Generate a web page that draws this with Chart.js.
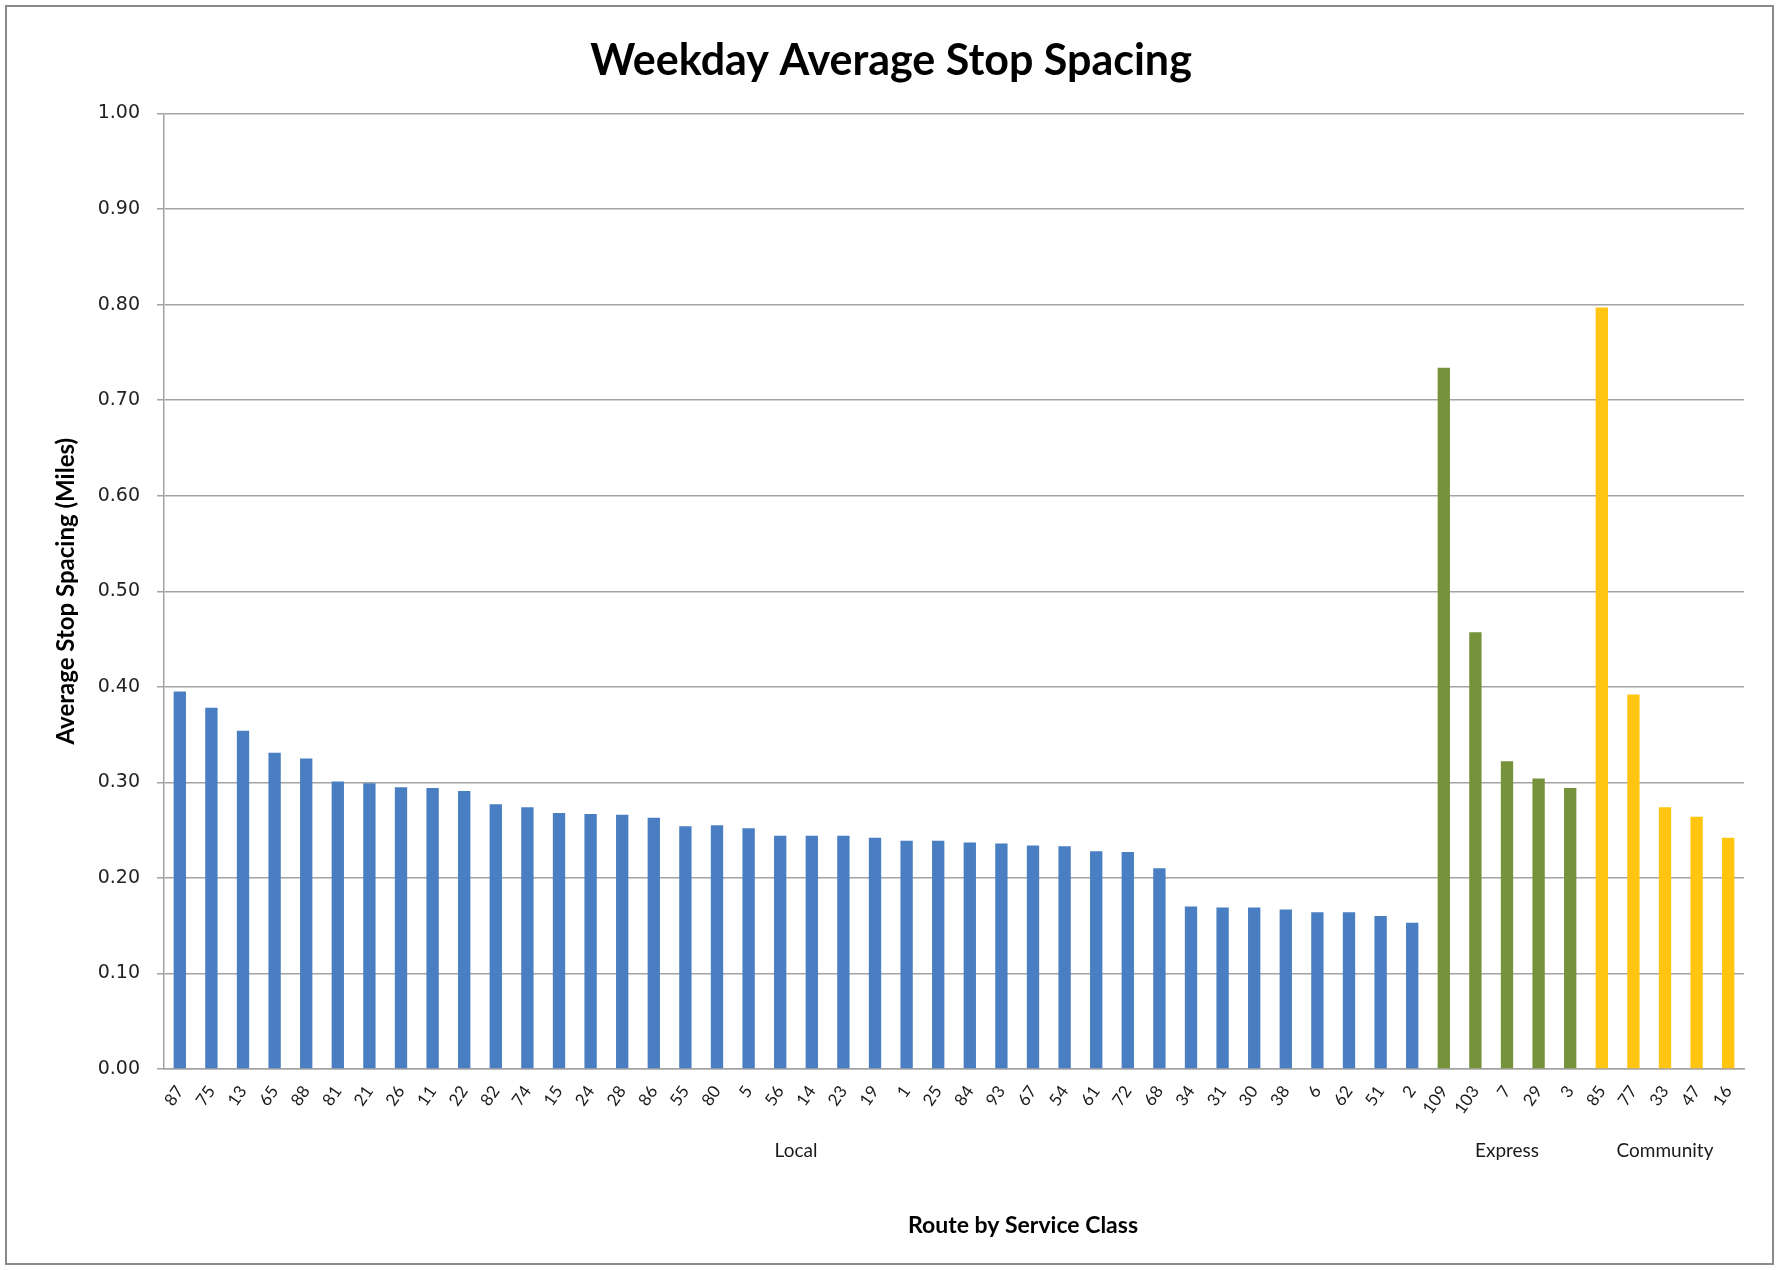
<!DOCTYPE html>
<html><head><meta charset="utf-8">
<script src="https://cdn.jsdelivr.net/npm/chart.js@4.4.0/dist/chart.umd.min.js"></script>
<style>html,body{margin:0;padding:0;background:#fff}#wrap{width:1779px;height:1270px}</style>
</head><body><div id="wrap"><canvas id="c" width="1779" height="1270"></canvas></div>
<script>
const chartTitle = 'Weekday Average Stop Spacing';
const yAxisTitle = 'Average Stop Spacing (Miles)';
const xAxisTitle = 'Route by Service Class';
const groupNames = ['Local', 'Express', 'Community'];
const localRoutes = ['87','75','13','65','88','81','21','26','11','22','82','74','15','24','28','86','55','80','5','56','14','23','19','1','25','84','93','67','54','61','72','68','34','31','30','38','6','62','51','2'];
const localValues = [0.395,0.378,0.354,0.331,0.325,0.301,0.299,0.295,0.294,0.291,0.277,0.274,0.268,0.267,0.266,0.263,0.254,0.255,0.252,0.244,0.244,0.244,0.242,0.239,0.239,0.237,0.236,0.234,0.233,0.228,0.227,0.210,0.170,0.169,0.169,0.167,0.164,0.164,0.160,0.153];
const expressRoutes = ['109','103','7','29','3'];
const expressValues = [0.734,0.457,0.322,0.304,0.294];
const communityRoutes = ['85','77','33','47','16'];
const communityValues = [0.797,0.392,0.274,0.264,0.242];
const yTicks = [0,0.1,0.2,0.3,0.4,0.5,0.6,0.7,0.8,0.9,1.0];
const groupColors = ['#4a7ec2', '#76933c', '#ffc510'];

const groups = [
  {name: groupNames[0], routes: localRoutes, values: localValues, color: groupColors[0]},
  {name: groupNames[1], routes: expressRoutes, values: expressValues, color: groupColors[1]},
  {name: groupNames[2], routes: communityRoutes, values: communityValues, color: groupColors[2]}
];
const labels = [], data = [], colors = [];
groups.forEach(g => { g.routes.forEach((r, i) => { labels.push(r); data.push(g.values[i]); colors.push(g.color); }); });

const CAL = 'Lato, "Open Sans", sans-serif';
const GRID = '#a3a3a3';

const decor = {
  id: 'decor',
  afterDraw(chart) {
    const ctx = chart.ctx, ca = chart.chartArea, xs = chart.scales.x;
    ctx.save();
    ctx.strokeStyle = '#8a8a8a'; ctx.lineWidth = 2;
    ctx.strokeRect(6, 6, chart.width - 12, chart.height - 12);
    ctx.fillStyle = '#000';
    ctx.textAlign = 'center'; ctx.textBaseline = 'middle';
    ctx.font = 'bold 43px ' + CAL;
    ctx.fillText(chartTitle, 891, 61);
    ctx.fillStyle = '#1a1a1a';
    ctx.font = '19px ' + CAL;
    let start = 0;
    groups.forEach(g => {
      const end = start + g.routes.length - 1;
      const cx = (xs.getPixelForValue(start) + xs.getPixelForValue(end)) / 2;
      ctx.fillText(g.name, cx, 1151);
      start = end + 1;
    });
    ctx.fillStyle = '#000';
    ctx.font = 'bold 23px ' + CAL;
    ctx.fillText(xAxisTitle, 1023, 1226);
    ctx.font = 'bold 24px ' + CAL;
    ctx.translate(66, (ca.top + ca.bottom) / 2);
    ctx.rotate(-Math.PI / 2);
    ctx.fillText(yAxisTitle, 0, 0);
    ctx.restore();
  }
};

new Chart(document.getElementById('c'), {
  type: 'bar',
  data: { labels: labels, datasets: [{ data: data, backgroundColor: colors, barPercentage: 0.39, categoryPercentage: 1.0 }] },
  options: {
    responsive: false, animation: false,
    layout: { padding: { left: 20, right: 35, top: 113.5, bottom: 0 } },
    plugins: { legend: { display: false }, tooltip: { enabled: false }, title: { display: false } },
    scales: {
      x: {
        grid: { display: false, drawTicks: false },
        border: { display: true, color: GRID, width: 1.5 },
        ticks: { autoSkip: false, minRotation: 55, maxRotation: 55, padding: 13, color: '#1a1a1a', font: { family: CAL, size: 17 } },
        afterFit(s) { s.height = 1270 - 1069; }
      },
      y: {
        min: 0, max: 1,
        afterBuildTicks(s) { s.ticks = yTicks.map(v => ({ value: v })); },
        grid: { color: GRID, lineWidth: 1.5, tickLength: 7, drawTicks: true },
        border: { display: true, color: GRID, width: 1.5 },
        ticks: { padding: 17, color: '#222', font: { family: 'DejaVu Sans', size: 19 }, callback: v => Number(v).toFixed(2) },
        afterFit(s) { s.width = 164 - 20; }
      }
    }
  },
  plugins: [decor]
});
</script></body></html>
